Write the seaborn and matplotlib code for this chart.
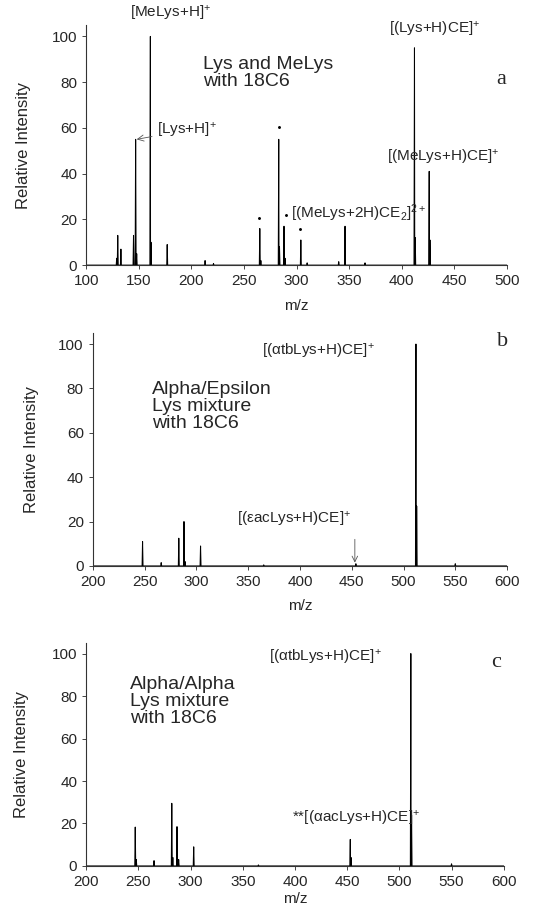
import pandas as pd
import seaborn as sns
import matplotlib.pyplot as plt

# --- peak lists (m/z, relative intensity) ---
mz_a = [129, 130, 133, 145, 147, 148, 161, 161.6, 177, 213, 221, 265, 266, 283, 283.7,
        288, 289, 304, 310, 340, 346, 365, 412, 412.7, 426, 426.7]
int_a = [3, 13, 7, 13, 55, 5, 100, 10, 9, 2, 0.7, 16, 2, 55, 8,
         17, 3, 11, 1, 1.5, 17, 1, 95, 12, 41, 11]

mz_b = [248, 266, 283, 288, 289, 304, 365, 454, 512, 512.7, 550]
int_b = [11, 1.5, 12.5, 20, 2, 9, 0.5, 1, 100, 27, 1]

mz_c = [247, 248, 265, 282, 283, 287, 288.6, 303, 365, 453, 453.7, 511, 511.7, 550]
int_c = [18.3, 3, 2.5, 29.5, 4, 18.5, 3, 9, 0.5, 12.5, 4, 100, 24, 1]

xlims = [(100, 500), (200, 600), (200, 600)]
titles = ["Lys and MeLys\nwith 18C6",
          "Alpha/Epsilon\nLys mixture\nwith 18C6",
          "Alpha/Alpha\nLys mixture\nwith 18C6"]
letters = ["a", "b", "c"]

sns.set_style("ticks")
plt.rcParams['font.family'] = ['Liberation Sans', 'DejaVu Sans']
plt.rcParams['mathtext.default'] = 'regular'


def profile(mz, inten, lo, hi):
    # turn the stick list into a thin-peak trace with a flat baseline
    rows = [(lo, 0.0), (hi, 0.0)]
    for m, h in zip(mz, inten):
        rows += [(m - 0.45, 0.0), (m, h), (m + 0.45, 0.0)]
    return pd.DataFrame(rows, columns=["mz", "intensity"])


fig = plt.figure(figsize=(5.56, 9.08), dpi=100)
ax_a = fig.add_axes([0.155, 0.708, 0.757, 0.2645])
ax_b = fig.add_axes([0.167, 0.3767, 0.745, 0.2566])
ax_c = fig.add_axes([0.155, 0.0463, 0.751, 0.2456])
axes = [ax_a, ax_b, ax_c]
ylab_pad = [15, 14, 16]
xlab_pad = [8, 7, 2]

for i, (ax, mz, inten, (lo, hi)) in enumerate(zip(axes, [mz_a, mz_b, mz_c],
                                                  [int_a, int_b, int_c], xlims)):
    df = profile(mz, inten, lo, hi)
    sns.lineplot(data=df, x="mz", y="intensity", ax=ax, color="black",
                 linewidth=0.75, sort=True, estimator=None)
    ax.set_xlim(lo, hi)
    ax.set_ylim(0, 105)
    ax.set_xticks(range(lo, hi + 1, 50))
    ax.set_yticks(range(0, 101, 20))
    ax.tick_params(labelsize=11, length=3, width=0.7, color="#444444")
    ax.set_xlabel("m/z", fontsize=11, labelpad=xlab_pad[i])
    ax.set_ylabel("Relative Intensity", fontsize=12, labelpad=ylab_pad[i])
    sns.despine(ax=ax)
    for s in ["left", "bottom"]:
        ax.spines[s].set_linewidth(0.8)
        ax.spines[s].set_color("#333333")

# --- panel a annotations ---
ax_a.text(211, 84, titles[0], fontsize=14, va="center", linespacing=1.05)
ax_a.text(490, 81, letters[0], fontsize=16, family="Liberation Serif", va="center")
ax_a.text(180, 110, "[MeLys+H]$^{+}$", fontsize=11, ha="center", va="center")
ax_a.annotate("[Lys+H]$^{+}$", xy=(148, 55), xytext=(167, 59), fontsize=11, va="center",
              arrowprops=dict(arrowstyle="->", lw=0.6, color="#555555", shrinkA=1, shrinkB=0))
ax_a.text(388, 103, "[(Lys+H)CE]$^{+}$", fontsize=11, va="center")
ax_a.text(386, 47, "[(MeLys+H)CE]$^{+}$", fontsize=11, va="center", clip_on=False)
ax_a.text(295, 22.5, "[(MeLys+2H)CE$_{2}$]$^{2+}$", fontsize=11, va="center")
dot_x = [264, 283, 289.5, 303.5]
dot_y = [20.5, 60.5, 22, 16]
ax_a.scatter(dot_x, dot_y, s=1.2, color="black")

# --- panel b annotations ---
ax_b.text(257, 72, titles[1], fontsize=14, va="center", linespacing=1.0)
ax_b.text(590, 101, letters[1], fontsize=16, family="Liberation Serif", va="center")
ax_b.text(363, 96.5, "[(αtbLys+H)CE]$^{+}$", fontsize=11, va="center")
ax_b.text(339, 21, "[(εacLys+H)CE]$^{+}$", fontsize=11, va="center")
ax_b.annotate("", xy=(453, 1.5), xytext=(453, 12),
              arrowprops=dict(arrowstyle="->", lw=0.6, color="#555555", shrinkA=0, shrinkB=0))

# --- panel c annotations ---
ax_c.text(242, 77.5, titles[2], fontsize=14, va="center", linespacing=1.0)
ax_c.text(588, 96, letters[2], fontsize=16, family="Liberation Serif", va="center")
ax_c.text(375, 98, "[(αtbLys+H)CE]$^{+}$", fontsize=11, va="center")
ax_c.text(397, 22.5, "**[(αacLys+H)CE]$^{+}$", fontsize=11, va="center")

fig.savefig("out.png", dpi=100)
